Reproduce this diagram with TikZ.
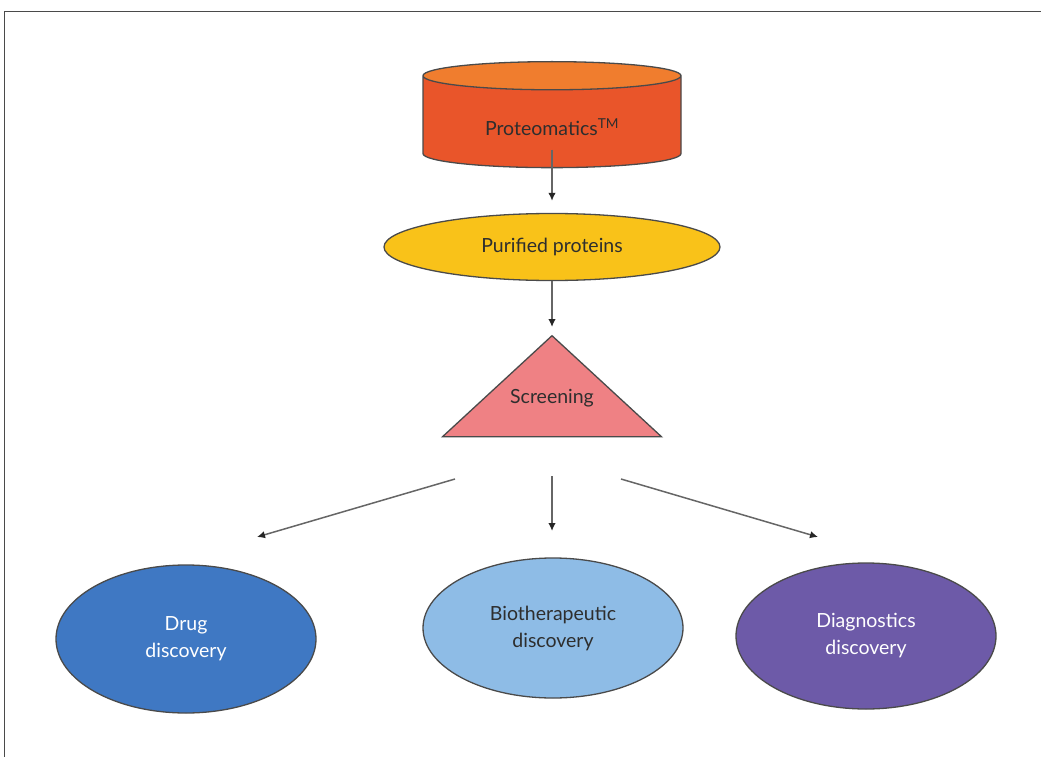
\documentclass[tikz,border=0pt]{standalone}
\usepackage{fontspec}
\setmainfont{Lato}
\usetikzlibrary{positioning,arrows,arrows.meta,calc,shapes.geometric}
\definecolor{protred}{HTML}{E9552A}
\definecolor{protcap}{HTML}{F07D2E}
\definecolor{purgold}{HTML}{F9C219}
\definecolor{scrpink}{HTML}{EF8184}
\definecolor{drugblue}{HTML}{3F78C3}
\definecolor{biosky}{HTML}{8EBCE6}
\definecolor{diagviolet}{HTML}{6D5AA8}
\definecolor{edgegrey}{HTML}{4A4A4A}
\definecolor{linkgrey}{HTML}{666666}
\definecolor{textgrey}{HTML}{2E2E2E}
\tikzset{
    cyl/.style = {
        draw=edgegrey,
        shape=cylinder,
        shape border rotate=90,
        aspect=0.2,
        minimum width=258pt,
        minimum height=106pt,
        cylinder uses custom fill,
        cylinder body fill=protred,
        cylinder end fill=protcap,
        line width=1.3pt,
        text=textgrey
    },
    oval/.style = {
        draw=edgegrey,
        shape=ellipse,
        inner sep=0pt,
        align=center,
        line width=1.3pt
    },
    tri/.style = {
        draw=edgegrey,
        shape=isosceles triangle,
        shape border rotate=90,
        isosceles triangle stretches,
        minimum width=219pt,
        minimum height=96pt,
        inner sep=0pt,
        fill=scrpink,
        line width=1.3pt,
        text=textgrey
    },
    link/.style = {
        draw=linkgrey,
        line width=1.5pt,
        ->
    },
    >={Latex[length=8pt,width=7.5pt,color=black!85]},
}

\begin{document}
\begin{tikzpicture}[x=1pt, y=-1pt, font=\fontsize{19.5}{27}\selectfont]
    \useasboundingbox (0,0) rectangle (1041,757);
    \draw[edgegrey, line width=0.9pt] (4,757) -- (4,11) -- (1041,11);

    \node[cyl, anchor=north] (prot) at (552,61) {\raisebox{-12pt}[0pt][0pt]{Proteomatics\textsuperscript{TM}}};
    \node[oval, fill=purgold, text=textgrey, minimum width=336pt, minimum height=67pt] (pur) at (552,247) {Purified proteins};
    \node[tri, anchor=apex] (scr) at (552,334) {\raisebox{7pt}[0pt][0pt]{Screening}};

    \node[oval, fill=drugblue, text=white, minimum width=260pt, minimum height=148pt] (drug) at (186,639) {Drug\\discovery};
    \node[oval, fill=biosky, text=textgrey, minimum width=260pt, minimum height=140pt] (bio) at (553,628) {Biotherapeutic\\discovery};
    \node[oval, fill=diagviolet, text=white, minimum width=260pt, minimum height=146pt] (diag) at (866,636) {Diagnostics\\discovery};

    \coordinate (fanl) at (455,479);
    \coordinate (fanm) at (552,476);
    \coordinate (fanr) at (621,479);
    \coordinate (tipl) at (257,537);
    \coordinate (tipm) at (552,531);
    \coordinate (tipr) at (818,537);

    \path[link] ([yshift=-26pt]prot.center) -- ([yshift=12pt]pur.north);
    \path[link] (pur.south) -- ([yshift=7pt]scr.apex);
    \path[link] (fanl) -- (tipl);
    \path[link] (fanm) -- (tipm);
    \path[link] (fanr) -- (tipr);
\end{tikzpicture}
\end{document}
